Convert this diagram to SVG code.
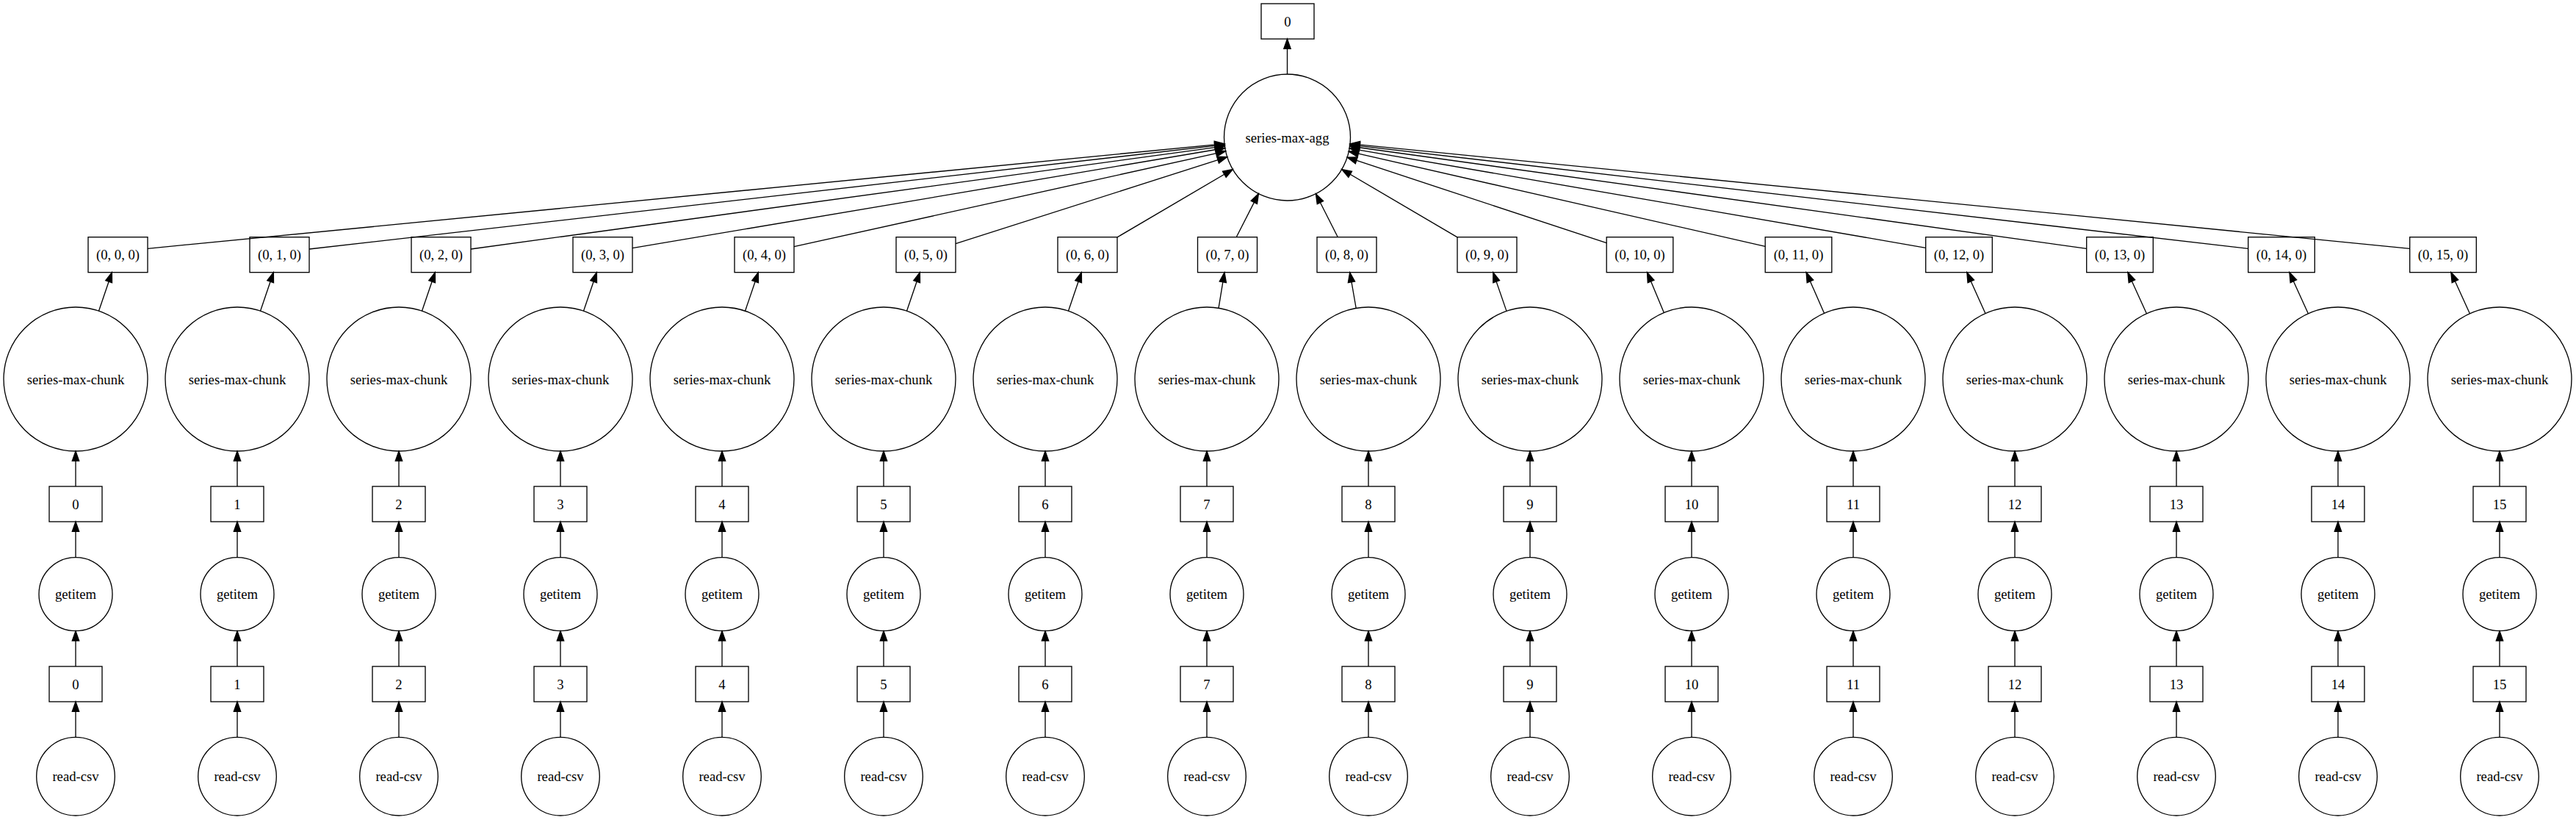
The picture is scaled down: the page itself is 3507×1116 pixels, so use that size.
<svg xmlns="http://www.w3.org/2000/svg" width="3507" height="1116" viewBox="0 0 3507 1116">
<style>
.n{fill:none;stroke:#000;stroke-width:1.33}
.t{font-family:"Liberation Serif","Times New Roman",serif;font-size:18.67px;text-anchor:middle;fill:#000}
.e{stroke:#000;stroke-width:1.33;fill:none;marker-end:url(#ah)}
</style>
<defs>
<marker id="ah" markerUnits="userSpaceOnUse" markerWidth="16" markerHeight="12" refX="13.3" refY="4.67" orient="auto" overflow="visible">
<path d="M0,0 L13.3,4.67 L0,9.33 Z" fill="#000" stroke="#000" stroke-width="1.33"/>
</marker>
</defs>
<rect x="0" y="0" width="3507" height="1116" fill="#fff"/>
<g id="connectors">
<line class="e" x1="1752.5" y1="101" x2="1752.5" y2="53"/>
<line class="e" x1="201" y1="338.3" x2="1666.9" y2="195.6"/>
<line class="e" x1="421" y1="339" x2="1667.1" y2="196.9"/>
<line class="e" x1="641" y1="339" x2="1667.3" y2="198.8"/>
<line class="e" x1="861" y1="337.7" x2="1667.7" y2="201.5"/>
<line class="e" x1="1081" y1="335.7" x2="1668.6" y2="205.8"/>
<line class="e" x1="1301" y1="331.7" x2="1670.7" y2="213.6"/>
<line class="e" x1="1521" y1="322.9" x2="1678.3" y2="230.5"/>
<line class="e" x1="1683.2" y1="322.7" x2="1713.4" y2="263.6"/>
<line class="e" x1="1821.3" y1="322.7" x2="1791.4" y2="263.7"/>
<line class="e" x1="1984" y1="322.9" x2="1826.7" y2="230.5"/>
<line class="e" x1="2187.2" y1="330.7" x2="1834.1" y2="214.2"/>
<line class="e" x1="2403.2" y1="335.3" x2="1836.3" y2="206.2"/>
<line class="e" x1="2621.7" y1="337.3" x2="1837.2" y2="201.8"/>
<line class="e" x1="2840.7" y1="338.3" x2="1837.7" y2="199"/>
<line class="e" x1="3060.7" y1="338.3" x2="1837.9" y2="197.1"/>
<line class="e" x1="3280.7" y1="338.3" x2="1838.1" y2="195.7"/>
<line class="e" x1="134.5" y1="423.2" x2="152.35" y2="370.7"/>
<line class="e" x1="354.5" y1="423.2" x2="372.35" y2="370.7"/>
<line class="e" x1="574.5" y1="423.2" x2="592.35" y2="370.7"/>
<line class="e" x1="794.5" y1="423.2" x2="812.35" y2="370.7"/>
<line class="e" x1="1014.5" y1="423.2" x2="1032.35" y2="370.7"/>
<line class="e" x1="1234.5" y1="423.2" x2="1252.35" y2="370.7"/>
<line class="e" x1="1454.5" y1="423.2" x2="1472.35" y2="370.7"/>
<line class="e" x1="1659" y1="419.3" x2="1667" y2="370.7"/>
<line class="e" x1="1846.2" y1="419.5" x2="1837.7" y2="370.7"/>
<line class="e" x1="2051" y1="423.4" x2="2032.8" y2="370.7"/>
<line class="e" x1="2265.3" y1="425.5" x2="2242.5" y2="370.7"/>
<line class="e" x1="2483.5" y1="426.3" x2="2459.1" y2="370.7"/>
<line class="e" x1="2702.9" y1="426.6" x2="2677.8" y2="370.7"/>
<line class="e" x1="2922.4" y1="426.8" x2="2896.9" y2="370.7"/>
<line class="e" x1="3142.4" y1="426.8" x2="3116.9" y2="370.7"/>
<line class="e" x1="3362.4" y1="426.8" x2="3336.9" y2="370.7"/>
<path class="e" d="M103,662V614"/><path class="e" d="M103,758.7V710"/><path class="e" d="M103,907V858.7"/><path class="e" d="M103,1003.3V955"/>
<path class="e" d="M323,662V614"/><path class="e" d="M323,758.7V710"/><path class="e" d="M323,907V858.7"/><path class="e" d="M323,1003.3V955"/>
<path class="e" d="M543,662V614"/><path class="e" d="M543,758.7V710"/><path class="e" d="M543,907V858.7"/><path class="e" d="M543,1003.3V955"/>
<path class="e" d="M763,662V614"/><path class="e" d="M763,758.7V710"/><path class="e" d="M763,907V858.7"/><path class="e" d="M763,1003.3V955"/>
<path class="e" d="M983,662V614"/><path class="e" d="M983,758.7V710"/><path class="e" d="M983,907V858.7"/><path class="e" d="M983,1003.3V955"/>
<path class="e" d="M1203,662V614"/><path class="e" d="M1203,758.7V710"/><path class="e" d="M1203,907V858.7"/><path class="e" d="M1203,1003.3V955"/>
<path class="e" d="M1423,662V614"/><path class="e" d="M1423,758.7V710"/><path class="e" d="M1423,907V858.7"/><path class="e" d="M1423,1003.3V955"/>
<path class="e" d="M1643,662V614"/><path class="e" d="M1643,758.7V710"/><path class="e" d="M1643,907V858.7"/><path class="e" d="M1643,1003.3V955"/>
<path class="e" d="M1863,662V614"/><path class="e" d="M1863,758.7V710"/><path class="e" d="M1863,907V858.7"/><path class="e" d="M1863,1003.3V955"/>
<path class="e" d="M2083,662V614"/><path class="e" d="M2083,758.7V710"/><path class="e" d="M2083,907V858.7"/><path class="e" d="M2083,1003.3V955"/>
<path class="e" d="M2303,662V614"/><path class="e" d="M2303,758.7V710"/><path class="e" d="M2303,907V858.7"/><path class="e" d="M2303,1003.3V955"/>
<path class="e" d="M2523,662V614"/><path class="e" d="M2523,758.7V710"/><path class="e" d="M2523,907V858.7"/><path class="e" d="M2523,1003.3V955"/>
<path class="e" d="M2743,662V614"/><path class="e" d="M2743,758.7V710"/><path class="e" d="M2743,907V858.7"/><path class="e" d="M2743,1003.3V955"/>
<path class="e" d="M2963,662V614"/><path class="e" d="M2963,758.7V710"/><path class="e" d="M2963,907V858.7"/><path class="e" d="M2963,1003.3V955"/>
<path class="e" d="M3183,662V614"/><path class="e" d="M3183,758.7V710"/><path class="e" d="M3183,907V858.7"/><path class="e" d="M3183,1003.3V955"/>
<path class="e" d="M3403,662V614"/><path class="e" d="M3403,758.7V710"/><path class="e" d="M3403,907V858.7"/><path class="e" d="M3403,1003.3V955"/>
</g>
<g id="out"><rect class="n" x="1717" y="5" width="72" height="48"/><text class="t" x="1753" y="35.5">0</text></g>
<g id="agg"><circle class="n" cx="1752.5" cy="187" r="86"/><text class="t" x="1752.5" y="193.5">series-max-agg</text></g>
<g id="tup0"><rect class="n" x="120" y="322.7" width="81" height="48"/><text class="t" x="160.5" y="353">(0, 0, 0)</text></g>
<g id="tup1"><rect class="n" x="340" y="322.7" width="81" height="48"/><text class="t" x="380.5" y="353">(0, 1, 0)</text></g>
<g id="tup2"><rect class="n" x="560" y="322.7" width="81" height="48"/><text class="t" x="600.5" y="353">(0, 2, 0)</text></g>
<g id="tup3"><rect class="n" x="780" y="322.7" width="81" height="48"/><text class="t" x="820.5" y="353">(0, 3, 0)</text></g>
<g id="tup4"><rect class="n" x="1000" y="322.7" width="81" height="48"/><text class="t" x="1040.5" y="353">(0, 4, 0)</text></g>
<g id="tup5"><rect class="n" x="1220" y="322.7" width="81" height="48"/><text class="t" x="1260.5" y="353">(0, 5, 0)</text></g>
<g id="tup6"><rect class="n" x="1440" y="322.7" width="81" height="48"/><text class="t" x="1480.5" y="353">(0, 6, 0)</text></g>
<g id="tup7"><rect class="n" x="1630.5" y="322.7" width="81" height="48"/><text class="t" x="1671" y="353">(0, 7, 0)</text></g>
<g id="tup8"><rect class="n" x="1793" y="322.7" width="81" height="48"/><text class="t" x="1833.5" y="353">(0, 8, 0)</text></g>
<g id="tup9"><rect class="n" x="1984" y="322.7" width="81" height="48"/><text class="t" x="2024.5" y="353">(0, 9, 0)</text></g>
<g id="tup10"><rect class="n" x="2187.2" y="322.7" width="90.6" height="48"/><text class="t" x="2232.5" y="353">(0, 10, 0)</text></g>
<g id="tup11"><rect class="n" x="2403.2" y="322.7" width="90.6" height="48"/><text class="t" x="2448.5" y="353">(0, 11, 0)</text></g>
<g id="tup12"><rect class="n" x="2621.7" y="322.7" width="90.6" height="48"/><text class="t" x="2667" y="353">(0, 12, 0)</text></g>
<g id="tup13"><rect class="n" x="2840.7" y="322.7" width="90.6" height="48"/><text class="t" x="2886" y="353">(0, 13, 0)</text></g>
<g id="tup14"><rect class="n" x="3060.7" y="322.7" width="90.6" height="48"/><text class="t" x="3106" y="353">(0, 14, 0)</text></g>
<g id="tup15"><rect class="n" x="3280.7" y="322.7" width="90.6" height="48"/><text class="t" x="3326" y="353">(0, 15, 0)</text></g>
<g id="chunk0"><circle class="n" cx="103" cy="516" r="98"/><text class="t" x="103" y="522.5">series-max-chunk</text></g>
<g id="chunk1"><circle class="n" cx="323" cy="516" r="98"/><text class="t" x="323" y="522.5">series-max-chunk</text></g>
<g id="chunk2"><circle class="n" cx="543" cy="516" r="98"/><text class="t" x="543" y="522.5">series-max-chunk</text></g>
<g id="chunk3"><circle class="n" cx="763" cy="516" r="98"/><text class="t" x="763" y="522.5">series-max-chunk</text></g>
<g id="chunk4"><circle class="n" cx="983" cy="516" r="98"/><text class="t" x="983" y="522.5">series-max-chunk</text></g>
<g id="chunk5"><circle class="n" cx="1203" cy="516" r="98"/><text class="t" x="1203" y="522.5">series-max-chunk</text></g>
<g id="chunk6"><circle class="n" cx="1423" cy="516" r="98"/><text class="t" x="1423" y="522.5">series-max-chunk</text></g>
<g id="chunk7"><circle class="n" cx="1643" cy="516" r="98"/><text class="t" x="1643" y="522.5">series-max-chunk</text></g>
<g id="chunk8"><circle class="n" cx="1863" cy="516" r="98"/><text class="t" x="1863" y="522.5">series-max-chunk</text></g>
<g id="chunk9"><circle class="n" cx="2083" cy="516" r="98"/><text class="t" x="2083" y="522.5">series-max-chunk</text></g>
<g id="chunk10"><circle class="n" cx="2303" cy="516" r="98"/><text class="t" x="2303" y="522.5">series-max-chunk</text></g>
<g id="chunk11"><circle class="n" cx="2523" cy="516" r="98"/><text class="t" x="2523" y="522.5">series-max-chunk</text></g>
<g id="chunk12"><circle class="n" cx="2743" cy="516" r="98"/><text class="t" x="2743" y="522.5">series-max-chunk</text></g>
<g id="chunk13"><circle class="n" cx="2963" cy="516" r="98"/><text class="t" x="2963" y="522.5">series-max-chunk</text></g>
<g id="chunk14"><circle class="n" cx="3183" cy="516" r="98"/><text class="t" x="3183" y="522.5">series-max-chunk</text></g>
<g id="chunk15"><circle class="n" cx="3403" cy="516" r="98"/><text class="t" x="3403" y="522.5">series-max-chunk</text></g>
<g id="key0"><rect class="n" x="67" y="662" width="72" height="48"/><text class="t" x="103" y="692.5">0</text></g>
<g id="key1"><rect class="n" x="287" y="662" width="72" height="48"/><text class="t" x="323" y="692.5">1</text></g>
<g id="key2"><rect class="n" x="507" y="662" width="72" height="48"/><text class="t" x="543" y="692.5">2</text></g>
<g id="key3"><rect class="n" x="727" y="662" width="72" height="48"/><text class="t" x="763" y="692.5">3</text></g>
<g id="key4"><rect class="n" x="947" y="662" width="72" height="48"/><text class="t" x="983" y="692.5">4</text></g>
<g id="key5"><rect class="n" x="1167" y="662" width="72" height="48"/><text class="t" x="1203" y="692.5">5</text></g>
<g id="key6"><rect class="n" x="1387" y="662" width="72" height="48"/><text class="t" x="1423" y="692.5">6</text></g>
<g id="key7"><rect class="n" x="1607" y="662" width="72" height="48"/><text class="t" x="1643" y="692.5">7</text></g>
<g id="key8"><rect class="n" x="1827" y="662" width="72" height="48"/><text class="t" x="1863" y="692.5">8</text></g>
<g id="key9"><rect class="n" x="2047" y="662" width="72" height="48"/><text class="t" x="2083" y="692.5">9</text></g>
<g id="key10"><rect class="n" x="2267" y="662" width="72" height="48"/><text class="t" x="2303" y="692.5">10</text></g>
<g id="key11"><rect class="n" x="2487" y="662" width="72" height="48"/><text class="t" x="2523" y="692.5">11</text></g>
<g id="key12"><rect class="n" x="2707" y="662" width="72" height="48"/><text class="t" x="2743" y="692.5">12</text></g>
<g id="key13"><rect class="n" x="2927" y="662" width="72" height="48"/><text class="t" x="2963" y="692.5">13</text></g>
<g id="key14"><rect class="n" x="3147" y="662" width="72" height="48"/><text class="t" x="3183" y="692.5">14</text></g>
<g id="key15"><rect class="n" x="3367" y="662" width="72" height="48"/><text class="t" x="3403" y="692.5">15</text></g>
<g id="getitem0"><circle class="n" cx="103" cy="808.7" r="50"/><text class="t" x="103" y="815">getitem</text></g>
<g id="getitem1"><circle class="n" cx="323" cy="808.7" r="50"/><text class="t" x="323" y="815">getitem</text></g>
<g id="getitem2"><circle class="n" cx="543" cy="808.7" r="50"/><text class="t" x="543" y="815">getitem</text></g>
<g id="getitem3"><circle class="n" cx="763" cy="808.7" r="50"/><text class="t" x="763" y="815">getitem</text></g>
<g id="getitem4"><circle class="n" cx="983" cy="808.7" r="50"/><text class="t" x="983" y="815">getitem</text></g>
<g id="getitem5"><circle class="n" cx="1203" cy="808.7" r="50"/><text class="t" x="1203" y="815">getitem</text></g>
<g id="getitem6"><circle class="n" cx="1423" cy="808.7" r="50"/><text class="t" x="1423" y="815">getitem</text></g>
<g id="getitem7"><circle class="n" cx="1643" cy="808.7" r="50"/><text class="t" x="1643" y="815">getitem</text></g>
<g id="getitem8"><circle class="n" cx="1863" cy="808.7" r="50"/><text class="t" x="1863" y="815">getitem</text></g>
<g id="getitem9"><circle class="n" cx="2083" cy="808.7" r="50"/><text class="t" x="2083" y="815">getitem</text></g>
<g id="getitem10"><circle class="n" cx="2303" cy="808.7" r="50"/><text class="t" x="2303" y="815">getitem</text></g>
<g id="getitem11"><circle class="n" cx="2523" cy="808.7" r="50"/><text class="t" x="2523" y="815">getitem</text></g>
<g id="getitem12"><circle class="n" cx="2743" cy="808.7" r="50"/><text class="t" x="2743" y="815">getitem</text></g>
<g id="getitem13"><circle class="n" cx="2963" cy="808.7" r="50"/><text class="t" x="2963" y="815">getitem</text></g>
<g id="getitem14"><circle class="n" cx="3183" cy="808.7" r="50"/><text class="t" x="3183" y="815">getitem</text></g>
<g id="getitem15"><circle class="n" cx="3403" cy="808.7" r="50"/><text class="t" x="3403" y="815">getitem</text></g>
<g id="part0"><rect class="n" x="67" y="907" width="72" height="48"/><text class="t" x="103" y="937.5">0</text></g>
<g id="part1"><rect class="n" x="287" y="907" width="72" height="48"/><text class="t" x="323" y="937.5">1</text></g>
<g id="part2"><rect class="n" x="507" y="907" width="72" height="48"/><text class="t" x="543" y="937.5">2</text></g>
<g id="part3"><rect class="n" x="727" y="907" width="72" height="48"/><text class="t" x="763" y="937.5">3</text></g>
<g id="part4"><rect class="n" x="947" y="907" width="72" height="48"/><text class="t" x="983" y="937.5">4</text></g>
<g id="part5"><rect class="n" x="1167" y="907" width="72" height="48"/><text class="t" x="1203" y="937.5">5</text></g>
<g id="part6"><rect class="n" x="1387" y="907" width="72" height="48"/><text class="t" x="1423" y="937.5">6</text></g>
<g id="part7"><rect class="n" x="1607" y="907" width="72" height="48"/><text class="t" x="1643" y="937.5">7</text></g>
<g id="part8"><rect class="n" x="1827" y="907" width="72" height="48"/><text class="t" x="1863" y="937.5">8</text></g>
<g id="part9"><rect class="n" x="2047" y="907" width="72" height="48"/><text class="t" x="2083" y="937.5">9</text></g>
<g id="part10"><rect class="n" x="2267" y="907" width="72" height="48"/><text class="t" x="2303" y="937.5">10</text></g>
<g id="part11"><rect class="n" x="2487" y="907" width="72" height="48"/><text class="t" x="2523" y="937.5">11</text></g>
<g id="part12"><rect class="n" x="2707" y="907" width="72" height="48"/><text class="t" x="2743" y="937.5">12</text></g>
<g id="part13"><rect class="n" x="2927" y="907" width="72" height="48"/><text class="t" x="2963" y="937.5">13</text></g>
<g id="part14"><rect class="n" x="3147" y="907" width="72" height="48"/><text class="t" x="3183" y="937.5">14</text></g>
<g id="part15"><rect class="n" x="3367" y="907" width="72" height="48"/><text class="t" x="3403" y="937.5">15</text></g>
<g id="read0"><circle class="n" cx="103" cy="1056.7" r="53.3"/><text class="t" x="103" y="1063">read-csv</text></g>
<g id="read1"><circle class="n" cx="323" cy="1056.7" r="53.3"/><text class="t" x="323" y="1063">read-csv</text></g>
<g id="read2"><circle class="n" cx="543" cy="1056.7" r="53.3"/><text class="t" x="543" y="1063">read-csv</text></g>
<g id="read3"><circle class="n" cx="763" cy="1056.7" r="53.3"/><text class="t" x="763" y="1063">read-csv</text></g>
<g id="read4"><circle class="n" cx="983" cy="1056.7" r="53.3"/><text class="t" x="983" y="1063">read-csv</text></g>
<g id="read5"><circle class="n" cx="1203" cy="1056.7" r="53.3"/><text class="t" x="1203" y="1063">read-csv</text></g>
<g id="read6"><circle class="n" cx="1423" cy="1056.7" r="53.3"/><text class="t" x="1423" y="1063">read-csv</text></g>
<g id="read7"><circle class="n" cx="1643" cy="1056.7" r="53.3"/><text class="t" x="1643" y="1063">read-csv</text></g>
<g id="read8"><circle class="n" cx="1863" cy="1056.7" r="53.3"/><text class="t" x="1863" y="1063">read-csv</text></g>
<g id="read9"><circle class="n" cx="2083" cy="1056.7" r="53.3"/><text class="t" x="2083" y="1063">read-csv</text></g>
<g id="read10"><circle class="n" cx="2303" cy="1056.7" r="53.3"/><text class="t" x="2303" y="1063">read-csv</text></g>
<g id="read11"><circle class="n" cx="2523" cy="1056.7" r="53.3"/><text class="t" x="2523" y="1063">read-csv</text></g>
<g id="read12"><circle class="n" cx="2743" cy="1056.7" r="53.3"/><text class="t" x="2743" y="1063">read-csv</text></g>
<g id="read13"><circle class="n" cx="2963" cy="1056.7" r="53.3"/><text class="t" x="2963" y="1063">read-csv</text></g>
<g id="read14"><circle class="n" cx="3183" cy="1056.7" r="53.3"/><text class="t" x="3183" y="1063">read-csv</text></g>
<g id="read15"><circle class="n" cx="3403" cy="1056.7" r="53.3"/><text class="t" x="3403" y="1063">read-csv</text></g>
</svg>
